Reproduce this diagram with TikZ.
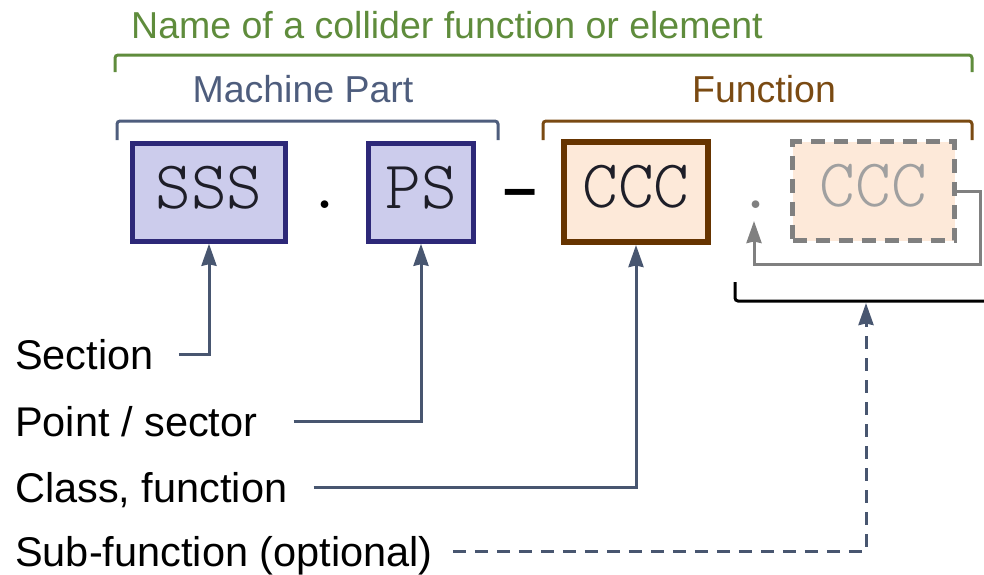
\documentclass[tikz,border=0pt]{standalone}
\usepackage{fontspec}
\setmainfont{Liberation Sans}
\newfontfamily\lmlight{lmmonolt10-regular.otf}
\usetikzlibrary{arrows.meta,calc}
\definecolor{ttlgreen}{RGB}{95,140,60}
\definecolor{mpcol}{RGB}{78,93,125}
\definecolor{fncol}{RGB}{122,74,18}
\definecolor{navy}{RGB}{45,40,120}
\definecolor{lav}{RGB}{204,204,236}
\definecolor{peach}{RGB}{253,233,217}
\definecolor{bbrown}{RGB}{102,52,0}
\definecolor{slate}{RGB}{72,86,112}
\definecolor{mgray}{RGB}{128,128,128}
\definecolor{fgray}{RGB}{160,160,160}
\definecolor{txt}{RGB}{30,30,40}
\tikzset{
  hdr/.style={anchor=base, inner sep=0, font=\fontsize{37.5}{42}\selectfont},
  lbl/.style={anchor=base west, inner sep=0, text height=29pt, text depth=0pt,
              font=\fontsize{41.5}{48}\selectfont, text=black},
  brk/.style={line width=3pt, rounded corners=3pt},
  mono/.style={font=\lmlight\fontsize{68}{68}\selectfont},
  boxtxt/.style={mono, inner sep=0, text height=42pt, text depth=11pt, align=center},
  mpbox/.style={boxtxt, draw=navy, fill=lav, line width=4.5pt, text=txt},
  fnbox/.style={boxtxt, draw=bbrown, fill=peach, line width=6pt, text=txt},
  optbox/.style={boxtxt, draw=mgray, fill=peach, line width=5pt, dash pattern=on 14pt off 9pt, text=fgray},
  arr/.style={draw=slate, line width=3pt, -{Stealth[length=22pt,width=15pt,inset=1.5pt]}},
  garr/.style={draw=mgray, line width=3pt, -{Stealth[length=22pt,width=15pt,inset=1.5pt]}},
}
\begin{document}
\begin{tikzpicture}[x=1pt,y=-1pt]
\useasboundingbox (0,0) rectangle (984,574);
% headers
\node[hdr, text=ttlgreen] (title) at (447,38) {Name of a collider function or element};
\draw[brk, ttlgreen] (115,72) -- (115,55) -- (972,55) -- (972,72);
\node[hdr, text=mpcol] (mp) at (303,102) {Machine Part};
\draw[brk, mpcol] (117,140) -- (117,121) -- (498,121) -- (498,140);
\node[hdr, text=fncol] (fn) at (764,102) {Function};
\draw[brk, fncol] (543,140) -- (543,121) -- (972,121) -- (972,140);
% boxes
\node[mpbox, minimum width=153pt, minimum height=98pt] (sss) at (209,192.5) {SSS};
\node[font=\ttfamily\fontsize{68}{68}\selectfont, anchor=base, inner sep=0, text=black] (dot1) at (325,208) {.};
\node[mpbox, minimum width=105pt, minimum height=98pt] (ps) at (421,192.5) {PS};
\node[anchor=base, inner sep=0, font=\bfseries\fontsize{60}{60}\selectfont] (dash) at (520,208) {–};
\node[fnbox, minimum width=144pt, minimum height=100pt] (ccc) at (636,192) {CCC};
\node[font=\ttfamily\fontsize{68}{68}\selectfont, anchor=base, inner sep=0, text=mgray] (dot2) at (756,208) {.};
\node[optbox, minimum width=162pt, minimum height=99pt] (sub) at (873.5,191) {CCC};
% loop back
\coordinate (loopc) at (980,264);
\coordinate (gtip) at (754,221);
\draw[garr] (sub.east) -| (loopc) -| (gtip);
% black bracket
\draw[brk, black] (735,282) -- (735,301) -- (995,301);
\coordinate (brkpt) at (866,303);
% labels
\node[lbl] (sec) at (15,369) {Section};
\node[lbl] (pt) at (15,436) {Point / sector};
\node[lbl] (cls) at (15,502) {Class, function};
\node[lbl] (sbf) at (15,566) {Sub-function (optional)};
\draw[arr] ([xshift=25pt]sec.east) -| (sss.south);
\draw[arr] ([xshift=36pt]pt.east) -| (ps.south);
\draw[arr] ([xshift=26pt]cls.east) -| (ccc.south);
\draw[arr, dash pattern=on 13pt off 9pt] ([xshift=20pt]sbf.east) -| (brkpt);
\end{tikzpicture}
\end{document}
